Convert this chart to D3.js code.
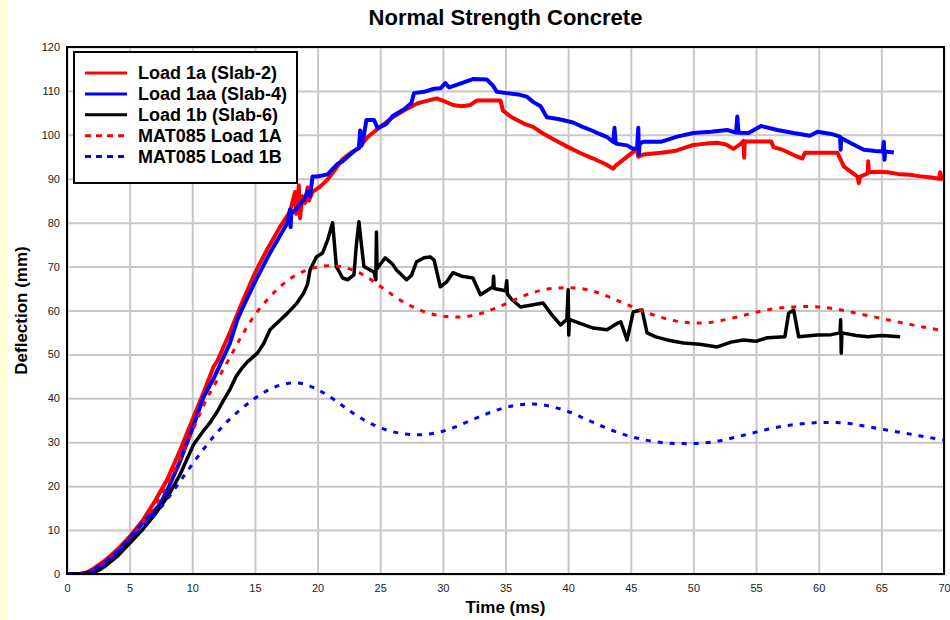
<!DOCTYPE html>
<html><head><meta charset="utf-8">
<script src="https://cdn.jsdelivr.net/npm/d3@7"></script>
<style>
body{margin:0;background:#fff}
svg{display:block}
text{font-family:"Liberation Sans",Arial,Helvetica,sans-serif}
</style>
</head><body>
<svg id="c" width="950" height="620"></svg>
<script>
const xTicks = [0,5,10,15,20,25,30,35,40,45,50,55,60,65,70];
const yTicks = [0,10,20,30,40,50,60,70,80,90,100,110,120];
const seriesNames = ["Load 1a (Slab-2)","Load 1aa (Slab-4)","Load 1b (Slab-6)","MAT085 Load 1A","MAT085 Load 1B"];

const load1a = [[0,0],[1,0],[1.5,0.3],[2,1],[2.5,2],[3,3],[3.5,4.2],[4,5.5],[4.5,7],[5,8.5],[6,12],[7,16.5],[8,21.5],[9,28],[10,35],[11,42],[11.7,47.2],[12,48.5],[13,55],[14,62],[15,68.5],[15.4,70.8],[16,74],[17,79],[17.8,82.5],[18.2,87],[18.3,82],[18.5,88.5],[18.6,81],[18.8,86],[19,84.5],[19.2,88],[19.3,85],[19.6,87],[20.2,88.2],[20.8,89.8],[21.5,92.5],[22,94.5],[22.6,95.8],[23.3,97],[24,99.5],[25,101.8],[26,104],[27,105.7],[28,107.2],[28.8,107.8],[29.5,108.3],[30,107.8],[30.8,106.8],[31.5,106.5],[32.2,106.8],[32.7,107.8],[34.6,107.8],[34.8,105.5],[35.5,104],[36.5,102.5],[37.2,101.8],[38,100.3],[39,98.7],[40,97.2],[41,95.8],[42,94.6],[43,93.3],[43.6,92.3],[43.8,93],[45.5,96.8],[45.6,95],[46,95.5],[47.4,95.9],[48.5,96.3],[50,97.7],[51,98],[51.9,98.2],[52.6,97.8],[53.2,96.8],[53.8,98],[54,98.6],[54.05,94.8],[54.1,98.5],[55,98.5],[56.2,98.5],[56.4,97.2],[57.2,96.5],[58,95.4],[58.7,94.6],[58.9,95.9],[61.5,95.9],[62,92.8],[62.6,91.5],[63.1,90.5],[63.2,89],[63.3,90.5],[63.9,91.2],[63.95,94],[64,91.5],[64.7,91.6],[65.5,91.5],[66.5,91],[67.3,90.9],[68,90.6],[69,90.3],[69.6,90],[69.7,91.5],[69.8,90],[70,90]];

const load1aa = [[0,0],[1,0],[1.5,0.2],[2,0.6],[3,2.5],[4,5],[5,8],[6,11.5],[7,14.5],[7.4,15.8],[8,19],[9,25.5],[10,33],[10.9,40.3],[11.7,44.5],[12,46.3],[13,52.5],[13.6,57.9],[14,60.5],[15,66.5],[16.2,73.1],[17,77],[17.6,80],[17.8,83],[17.85,79],[17.9,82],[18.4,83.5],[18.9,85.2],[19.2,87],[19.4,86],[19.6,90.5],[20,90.5],[20.8,91],[21.6,93.4],[22,94],[23,96.5],[23.3,97],[23.4,101],[23.5,97.5],[23.7,100],[23.9,103.4],[24.5,103.4],[24.8,101.5],[25.5,102.5],[26,104.3],[27,106],[27.5,107.3],[27.7,109.5],[28.5,109.8],[29.3,110.5],[29.8,110.6],[30.2,111.8],[30.5,110.8],[31.1,111.4],[32,112.3],[32.4,112.7],[33.5,112.6],[34,111.2],[34.3,109.8],[35.1,109.5],[36,109.2],[36.7,108.7],[37.2,107.5],[37.8,106.5],[38.3,104],[39.2,103.6],[40.4,102.8],[41,102],[41.8,101.1],[42.5,100.2],[43.1,99.5],[43.6,98.4],[43.7,101.6],[43.8,98],[44.7,97.6],[45.2,96.8],[45.5,97],[45.6,101.6],[45.65,95.5],[45.7,98],[46,98.4],[47.4,98.4],[48.7,99.6],[50,100.4],[51.4,100.7],[52.7,101.1],[53.4,100.5],[53.5,104.2],[53.6,100.5],[54.4,100.4],[55.4,102],[56.7,101.1],[58,100.4],[59.3,99.8],[59.9,100.7],[61,100.2],[61.7,99.6],[61.75,96.6],[61.8,99.3],[62.5,98.2],[63.6,96.6],[64.5,96.3],[65.1,96.2],[65.2,98.4],[65.25,94.3],[65.3,96.2],[66,96]];

const load1b = [[0,0],[1,0],[2,0.2],[2.5,0.8],[3,1.7],[4,4],[5,7],[6,10],[7,13.5],[8,17.5],[8.2,18.4],[9,22.5],[10.1,29.5],[11,33],[11.4,34.4],[12,37],[12.5,39.6],[13,42],[13.5,45],[14,47],[14.4,48.3],[15.2,50.3],[15.7,52.5],[16.2,55.6],[17,57.8],[17.6,59.4],[18.3,61.5],[18.9,64],[19.2,66],[19.4,69.2],[19.9,72.2],[20.4,73.1],[20.8,76],[21.2,80],[21.5,70],[22,67.4],[22.4,67],[22.9,68.1],[23.1,75],[23.3,80.2],[23.5,75],[23.7,70],[24.2,69.2],[24.5,68.8],[24.65,67],[24.7,77.9],[24.75,69.5],[25.4,72],[26,70.5],[26.3,69.2],[27.1,67],[27.5,68],[27.9,71.1],[28.5,72],[29,72.2],[29.3,71.5],[29.8,65.4],[30.3,66.5],[30.8,68.6],[31.5,67.8],[32.4,67.4],[33,63.6],[33.5,64.5],[34,65.4],[34.05,67.8],[34.1,65],[35,64.5],[35.1,66.8],[35.15,63.8],[35.5,62.5],[36.2,60.8],[37,61.2],[38,61.7],[38.7,59],[39.4,56.7],[39.9,58],[40,64.7],[40.05,54.4],[40.1,58],[41,57],[42,56],[43.1,55.6],[44,57.2],[44.2,57.4],[44.7,53.3],[45.2,59.7],[45.9,60.1],[46.3,54.9],[47,54],[47.9,53.3],[49.2,52.6],[50.5,52.3],[51.9,51.7],[53,52.8],[54,53.3],[55,53],[55.9,53.8],[57.3,54],[57.6,59.4],[58,60.1],[58.4,54],[59.9,54.4],[61,54.5],[61.7,54.9],[61.75,57.9],[61.8,50.3],[61.85,54.9],[63,54.3],[63.9,54],[65,54.3],[66.5,54]];

const mat1A = [[0,0],[1,0],[2,0.5],[3,2.5],[4,5],[5,8],[6,11.5],[7,15.5],[8,20.5],[9,26],[10,32.5],[11,39],[12,44.2],[13,49.3],[14,54.5],[15,59],[16,62.5],[17,65.4],[18,67.6],[19,69],[20,69.9],[21,70.2],[22,69.9],[23,69],[24,67.5],[25,65.5],[26,63.5],[27,61.7],[28,60.3],[29,59.3],[30,58.7],[31,58.5],[32,58.7],[33,59.3],[34,60.3],[35,61.5],[36,62.8],[37,63.9],[38,64.7],[39,65.1],[40,65.2],[41,65],[42,64.4],[43,63.4],[44,62.2],[45,61],[46,59.8],[47,58.8],[48,58],[49,57.4],[50,57.2],[51,57.2],[52,57.6],[53,58.2],[54,58.9],[55,59.6],[56,60.2],[57,60.6],[58,60.8],[59,60.9],[60,60.8],[61,60.5],[62,60],[63,59.4],[64,58.8],[65,58.2],[66,57.6],[67,57],[68,56.4],[69,55.9],[70,55.4]];

const mat1B = [[0,0],[1,0],[2,0.3],[3,2],[4,4.6],[5,7.8],[6,10.4],[7,13.5],[8,17],[9,21],[10,25],[11,28.8],[12,32.3],[13,35.3],[14,37.8],[15,40],[16,41.8],[17,43],[18,43.5],[19,43.2],[20,42],[21,40.3],[22,38.3],[23,36.3],[24,34.6],[25,33.3],[26,32.4],[27,31.9],[28,31.7],[29,31.9],[30,32.5],[31,33.5],[32,34.7],[33,35.9],[34,37],[35,37.9],[36,38.5],[37,38.7],[38,38.5],[39,37.9],[40,37],[41,35.8],[42,34.5],[43,33.3],[44,32.2],[45,31.3],[46,30.6],[47,30.1],[48,29.8],[49,29.7],[50,29.7],[51,29.9],[52,30.3],[53,30.9],[54,31.6],[55,32.3],[56,33],[57,33.6],[58,34],[59,34.3],[60,34.5],[61,34.5],[62,34.4],[63,34],[64,33.5],[65,33],[66,32.5],[67,32],[68,31.5],[69,31],[70,30.5]];

const svg = d3.select("#c");
const L = 67, R = 944, T = 47, B = 574;
const W = R - L, H = B - T;

svg.append("rect").attr("x",0).attr("y",0).attr("width",950).attr("height",620).attr("fill","#fff");
svg.append("rect").attr("x",0).attr("y",0).attr("width",8).attr("height",620).attr("fill","#ffffd6");

const x = d3.scaleLinear().domain([0,70]).range([L,R]);
const y = d3.scaleLinear().domain([0,120]).range([B,T]);

const gx = svg.append("g").attr("transform",`translate(0,${B})`)
  .call(d3.axisBottom(x).tickValues(xTicks).tickSize(-H).tickPadding(10).tickFormat(d3.format("d")));
gx.select(".domain").remove();
gx.selectAll("line").attr("stroke","#c8c8c8").attr("stroke-width",2);
gx.selectAll("text").attr("font-size",11).attr("fill","#222");

const gy = svg.append("g").attr("transform",`translate(${L},0)`)
  .call(d3.axisLeft(y).tickValues(yTicks).tickSize(-W).tickPadding(7).tickFormat(d3.format("d")));
gy.select(".domain").remove();
gy.selectAll("line").attr("stroke","#c8c8c8").attr("stroke-width",2);
gy.selectAll("text").attr("font-size",11).attr("fill","#222");

svg.append("clipPath").attr("id","clip").append("rect").attr("x",L).attr("y",T).attr("width",W).attr("height",H);

const line = d3.line().x(d=>x(d[0])).y(d=>y(d[1]));
const smooth = d3.line().x(d=>x(d[0])).y(d=>y(d[1])).curve(d3.curveCatmullRom);

const plotG = svg.append("g").attr("clip-path","url(#clip)");
const series = [
  {data: load1a, color:"#ff0000", dash:null, gen: line, w:4},
  {data: load1aa, color:"#0000ff", dash:null, gen: line, w:4},
  {data: load1b, color:"#000000", dash:null, gen: line, w:3.5},
  {data: mat1A, color:"#ff0000", dash:"5,7", gen: smooth, w:3},
  {data: mat1B, color:"#0000ff", dash:"5,7", gen: smooth, w:3}
];
series.forEach(s=>{
  plotG.append("path").datum(s.data).attr("d",s.gen).attr("fill","none")
    .attr("stroke",s.color).attr("stroke-width",s.w).attr("stroke-linejoin","round")
    .attr("stroke-dasharray",s.dash);
});

svg.append("rect").attr("x",L).attr("y",T).attr("width",W).attr("height",H)
  .attr("fill","none").attr("stroke","#000").attr("stroke-width",2);

const lg = svg.append("g");
lg.append("rect").attr("x",74).attr("y",52).attr("width",223).attr("height",131)
  .attr("fill","#fff").attr("stroke","#000").attr("stroke-width",2);
seriesNames.forEach((n,i)=>{
  const yy = 73 + i*20.9;
  lg.append("line").attr("x1",85).attr("x2",127).attr("y1",yy).attr("y2",yy)
    .attr("stroke",series[i].color).attr("stroke-width",3)
    .attr("stroke-dasharray",series[i].dash ? "6,5" : null);
  lg.append("text").attr("x",138).attr("y",yy).attr("dy","0.36em")
    .attr("font-size",18).attr("font-weight","bold").attr("fill","#000").text(n);
});

svg.append("text").attr("x",(L+R)/2).attr("y",25).attr("text-anchor","middle")
  .attr("font-size",22).attr("font-weight","bold").text("Normal Strength Concrete");
svg.append("text").attr("x",(L+R)/2).attr("y",613).attr("text-anchor","middle")
  .attr("font-size",17).attr("font-weight","bold").text("Time (ms)");
svg.append("text").attr("transform",`translate(27,${(T+B)/2}) rotate(-90)`).attr("text-anchor","middle")
  .attr("font-size",17).attr("font-weight","bold").text("Deflection (mm)");
</script>
</body></html>
